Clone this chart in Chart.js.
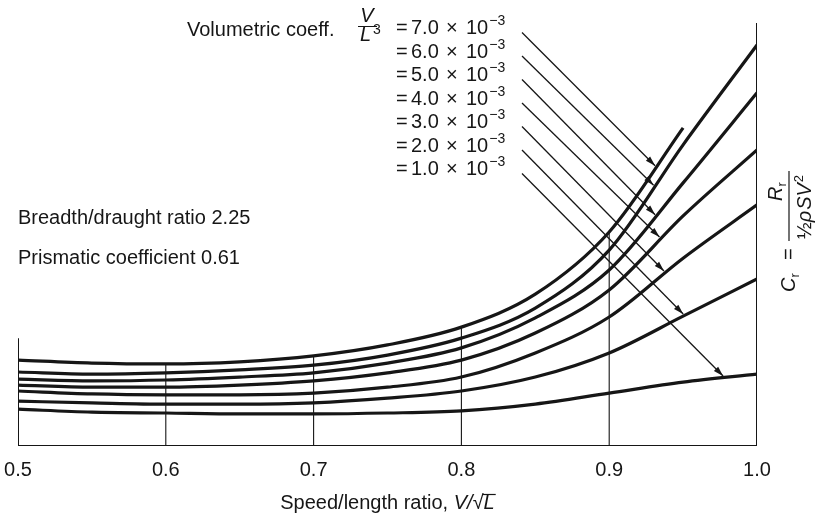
<!DOCTYPE html>
<html>
<head>
  <meta charset="utf-8">
  <title>Residuary resistance coefficient</title>
  <script src="https://cdn.jsdelivr.net/npm/chart.js@4.4.0/dist/chart.umd.min.js"></script>
  <style>
    html, body { margin: 0; padding: 0; background: #fff; }
    .chart { width: 817px; height: 518px; }
  </style>
</head>
<body>
  <div class="chart"><canvas id="myChart" width="817" height="518"></canvas></div>

  <script>
    // speed/length ratio V/sqrt(L)
    const speeds = [0.5, 0.55, 0.6, 0.65, 0.7, 0.75, 0.8, 0.85, 0.9, 0.95, 1.0];
    const xTicks = [0.5, 0.6, 0.7, 0.8, 0.9, 1.0];
    const gridSpeeds = [0.6, 0.7, 0.8, 0.9];

    // volumetric coefficient V/L^3 (x 10^-3), one curve each
    const volumetric = ['7.0', '6.0', '5.0', '4.0', '3.0', '2.0', '1.0'];
    const cr70 = [2.03, 1.96, 1.94, 1.99, 2.13, 2.39, 2.81, 3.59, 5.06, 7.52, null];
    const cr60 = [1.75, 1.70, 1.73, 1.80, 1.91, 2.15, 2.55, 3.26, 4.63, 7.12, 9.48];
    const cr50 = [1.58, 1.54, 1.56, 1.63, 1.73, 1.96, 2.32, 3.03, 4.16, 6.22, 8.35];
    const cr40 = [1.44, 1.39, 1.39, 1.44, 1.54, 1.73, 2.03, 2.67, 3.69, 5.44, 7.00];
    const cr30 = [1.30, 1.23, 1.21, 1.21, 1.25, 1.39, 1.63, 2.20, 3.05, 4.44, 5.70];
    const cr20 = [1.06, 1.02, 0.99, 0.99, 1.02, 1.13, 1.30, 1.63, 2.20, 3.07, 3.95];
    const cr10 = [0.87, 0.80, 0.78, 0.76, 0.76, 0.78, 0.83, 0.99, 1.25, 1.51, 1.70];

    // speed where each leader arrow meets its curve
    const arrowAt = [0.932, 0.931, 0.932, 0.935, 0.938, 0.951, 0.978];

    const crMax = 10;      // no scale printed on the figure
    const leftEdgeTop = 2.55;

    const ink = '#161616';
    const FONT = '"Liberation Sans", Arial, sans-serif';

    const series = [cr70, cr60, cr50, cr40, cr30, cr20, cr10];

    const curveSets = series.map((vals, i) => ({
      label: volumetric[i],
      data: speeds.map((s, k) => ({ x: s, y: vals[k] })),
      borderColor: ink,
      borderWidth: 3.2,
      pointRadius: 0,
      cubicInterpolationMode: 'monotone',
      spanGaps: false,
    }));

    // thin verticals only reach up to the top curve
    const drops = [];
    gridSpeeds.forEach(s => {
      const top = cr70[speeds.indexOf(s)];
      drops.push({ x: s, y: 0 }, { x: s, y: top }, { x: s, y: null });
    });

    const frame = [
      { x: speeds[0], y: leftEdgeTop },
      { x: speeds[0], y: 0 },
      { x: speeds[speeds.length - 1], y: 0 },
      { x: speeds[speeds.length - 1], y: crMax },
    ];

    function txt(ctx, s, x, y, size, italic) {
      ctx.font = (italic ? 'italic ' : '') + size + 'px ' + FONT;
      ctx.fillText(s, x, y);
      return x + ctx.measureText(s).width;
    }

    // y pixel of the drawn (bezier) curve at pixel x
    function curvePixelY(meta, px) {
      const pts = meta.data;
      const bez = (t, p0, p1, p2, p3) => {
        const u = 1 - t;
        return u * u * u * p0 + 3 * u * u * t * p1 + 3 * u * t * t * p2 + t * t * t * p3;
      };
      for (let i = 0; i < pts.length - 1; i++) {
        const a = pts[i], b = pts[i + 1];
        if (a.skip || b.skip || px < a.x || px > b.x) continue;
        const c1x = a.cp2x ?? a.x, c1y = a.cp2y ?? a.y;
        const c2x = b.cp1x ?? b.x, c2y = b.cp1y ?? b.y;
        let lo = 0, hi = 1;
        for (let k = 0; k < 40; k++) {
          const m = (lo + hi) / 2;
          if (bez(m, a.x, c1x, c2x, b.x) < px) lo = m; else hi = m;
        }
        const t = (lo + hi) / 2;
        return bez(t, a.y, c1y, c2y, b.y);
      }
      return null;
    }

    const notes = {
      id: 'notes',
      afterDatasetsDraw(chart) {
        const ctx = chart.ctx;
        const xs = chart.scales.x;
        ctx.save();
        ctx.fillStyle = ink;
        ctx.strokeStyle = ink;
        ctx.textBaseline = 'alphabetic';
        ctx.textAlign = 'left';

        // key block
        txt(ctx, 'Volumetric coeff.', 187, 36, 20, false);
        ctx.font = 'italic 20px ' + FONT;
        const vw = ctx.measureText('V').width;
        txt(ctx, 'V', 367 - vw / 2, 22, 20, true);
        ctx.lineWidth = 1;
        ctx.beginPath(); ctx.moveTo(358, 26.5); ctx.lineTo(377, 26.5); ctx.stroke();
        let lx = txt(ctx, 'L', 360, 41, 20, true);
        txt(ctx, '3', lx + 2, 34, 14, false);

        volumetric.forEach((v, i) => {
          const base = 34 + i * 23.5;
          txt(ctx, '=', 396, base, 20, false);
          txt(ctx, v, 411, base, 20, false);
          txt(ctx, '\u00d7', 446, base, 20, false);
          const x = txt(ctx, '10', 466, base, 20, false);
          txt(ctx, '\u22123', x + 1, base - 9, 14, false);

          // leader with arrow down to the curve
          const meta = chart.getDatasetMeta(i);
          const tx = xs.getPixelForValue(arrowAt[i]);
          const ty = curvePixelY(meta, tx);
          if (ty == null) return;
          const sx = 522, sy = base - 1.5;
          const ang = Math.atan2(ty - sy, tx - sx);
          const ex = tx - Math.cos(ang) * 2, ey = ty - Math.sin(ang) * 2;
          ctx.lineWidth = 1.3;
          ctx.beginPath(); ctx.moveTo(sx, sy); ctx.lineTo(ex, ey); ctx.stroke();
          const len = 10, half = 3;
          const bx = ex - Math.cos(ang) * len, by = ey - Math.sin(ang) * len;
          ctx.beginPath();
          ctx.moveTo(ex, ey);
          ctx.lineTo(bx - Math.sin(ang) * half, by + Math.cos(ang) * half);
          ctx.lineTo(bx + Math.sin(ang) * half, by - Math.cos(ang) * half);
          ctx.closePath();
          ctx.fill();
        });

        txt(ctx, 'Breadth/draught ratio 2.25', 18, 224, 20, false);
        txt(ctx, 'Prismatic coefficient 0.61', 18, 264, 20, false);

        // x axis title, centred under the plot
        ctx.font = '20px ' + FONT;
        const w1 = ctx.measureText('Speed/length ratio, ').width;
        const w3 = ctx.measureText('\u221a').width;
        ctx.font = 'italic 20px ' + FONT;
        const w2 = ctx.measureText('V/').width;
        const w4 = ctx.measureText('L').width;
        const cx = (chart.chartArea.left + chart.chartArea.right) / 2;
        let x = cx - (w1 + w2 + w3 + w4) / 2;
        x = txt(ctx, 'Speed/length ratio, ', x, 509, 20, false);
        x = txt(ctx, 'V/', x, 509, 20, true);
        x = txt(ctx, '\u221a', x, 509, 20, false);
        const lEnd = txt(ctx, 'L', x, 509, 20, true);
        ctx.lineWidth = 1.2;
        ctx.beginPath(); ctx.moveTo(x - 1, 494.5); ctx.lineTo(lEnd + 1, 494.5); ctx.stroke();

        // rotated C_r label on the right
        ctx.save();
        ctx.rotate(-Math.PI / 2);
        // rotated frame: (u, v) = (-screenY, screenX)
        let u = txt(ctx, 'C', -292, 795, 20, true);
        txt(ctx, 'r', u, 799, 13, false);
        txt(ctx, '=', -260, 795, 20, false);
        ctx.lineWidth = 1.2;
        ctx.beginPath(); ctx.moveTo(-241, 789); ctx.lineTo(-171, 789); ctx.stroke();
        u = txt(ctx, 'R', -201, 782, 20, true);
        txt(ctx, 'r', u, 786, 13, false);
        u = txt(ctx, '\u00bd', -239, 811, 20, false);
        u = txt(ctx, '\u03c1', u, 811, 20, true);
        u = txt(ctx, 'SV', u + 1, 811, 20, true);
        txt(ctx, '2', u + 1, 803, 13, false);
        ctx.restore();

        ctx.restore();
      }
    };

    const config = {
      type: 'line',
      data: {
        datasets: [
          ...curveSets,
          { label: 'grid', data: drops, borderColor: ink, borderWidth: 1.1, pointRadius: 0, spanGaps: false },
          { label: 'frame', data: frame, borderColor: ink, borderWidth: 2, pointRadius: 0 },
        ]
      },
      plugins: [notes],
      options: {
        responsive: false,
        animation: false,
        layout: { padding: { left: 18, right: 60, top: 23, bottom: 0 } },
        scales: {
          x: {
            type: 'linear',
            min: 0.5,
            max: 1.0,
            grid: { display: false, drawTicks: false },
            border: { display: false },
            afterBuildTicks: s => { s.ticks = xTicks.map(v => ({ value: v })); },
            afterFit: s => {
              s.height = 72;
              s.paddingLeft = 0;
              s.paddingRight = 0;
            },
            ticks: {
              padding: 12,
              color: ink,
              font: { family: '"Liberation Sans", Arial, sans-serif', size: 20 },
              callback: v => Number(v).toFixed(1),
              maxRotation: 0,
              autoSkip: false,
            }
          },
          y: {
            min: 0,
            max: crMax,
            display: false,
          }
        },
        plugins: {
          legend: { display: false },
          tooltip: { enabled: false },
        }
      }
    };

    const myChart = new Chart(document.getElementById('myChart'), config);
  </script>
</body>
</html>
